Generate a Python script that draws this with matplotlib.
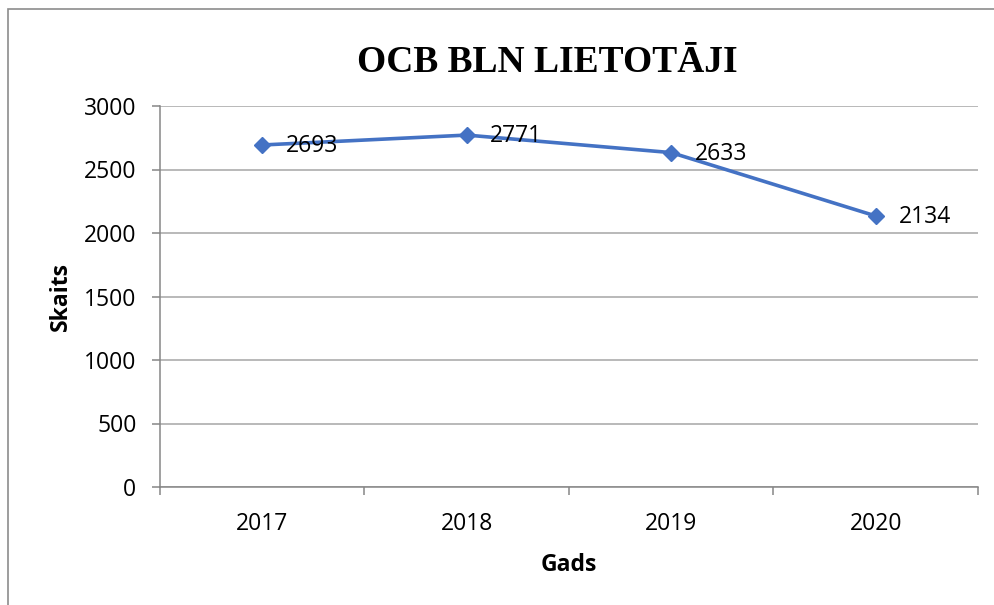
import matplotlib.pyplot as plt
from matplotlib.patches import Rectangle

# data
years = ["2017", "2018", "2019", "2020"]
users = [2693, 2771, 2633, 2134]
yticks = [0, 500, 1000, 1500, 2000, 2500, 3000]

grid_col = "#a6a6a6"
axis_col = "#868686"
line_col = "#4472c4"
sans = ["Open Sans", "DejaVu Sans"]
fs = 16.5

fig = plt.figure(figsize=(9.95, 6.05), dpi=100)
ax = fig.add_axes([160 / 995, 1 - 487 / 605, (978 - 160) / 995, (487 - 106) / 605])

# chart border (runs off right and bottom edges like the original)
fig.patches.append(Rectangle((8 / 995, -0.1), 1.2, 1 - 9 / 605 + 0.1,
                             transform=fig.transFigure, fill=False,
                             edgecolor="#8c8c8c", linewidth=1.2))

x = list(range(len(years)))
ax.plot(x, users, color=line_col, linewidth=2.6, marker="D", markersize=8,
        markerfacecolor=line_col, markeredgecolor=line_col, zorder=3)

# data labels to the right of points
for xi, v in zip(x, users):
    ax.annotate(str(v), (xi, v), xytext=(17, -1), textcoords="offset points",
                va="center", ha="left", fontsize=fs, family=sans, zorder=4)

ax.set_xlim(-0.5, len(years) - 0.5)
ax.set_ylim(0, 3000)
ax.set_yticks(yticks)
ax.set_yticklabels([str(t) for t in yticks], family=sans, fontsize=fs)
ax.yaxis.grid(True, color=grid_col, linewidth=1.1)
ax.set_axisbelow(True)

ax.set_xticks(x)
ax.set_xticklabels(years, family=sans, fontsize=fs)
ax.set_xticks([i - 0.5 for i in range(len(years) + 1)], minor=True)
ax.tick_params(axis="x", which="major", length=0, pad=18)
ax.tick_params(axis="x", which="minor", length=6, color=axis_col, width=1.1)
ax.tick_params(axis="y", length=6, color=axis_col, width=1.1, pad=11)

for s in ["top", "right"]:
    ax.spines[s].set_visible(False)
for s in ["left", "bottom"]:
    ax.spines[s].set_color(axis_col)
    ax.spines[s].set_linewidth(1.1)

ax.set_xlabel("Gads", family=sans, fontsize=fs, fontweight="bold", labelpad=12)
ax.set_ylabel("Skaits", family=sans, fontsize=fs, fontweight="bold", labelpad=8)

fig.text(547 / 995, 1 - 62 / 605, "OCB BLN LIETOTĀJI", ha="center", va="center",
         family="Liberation Serif", fontweight="bold", fontsize=27)

fig.savefig("out.png", dpi=100)
